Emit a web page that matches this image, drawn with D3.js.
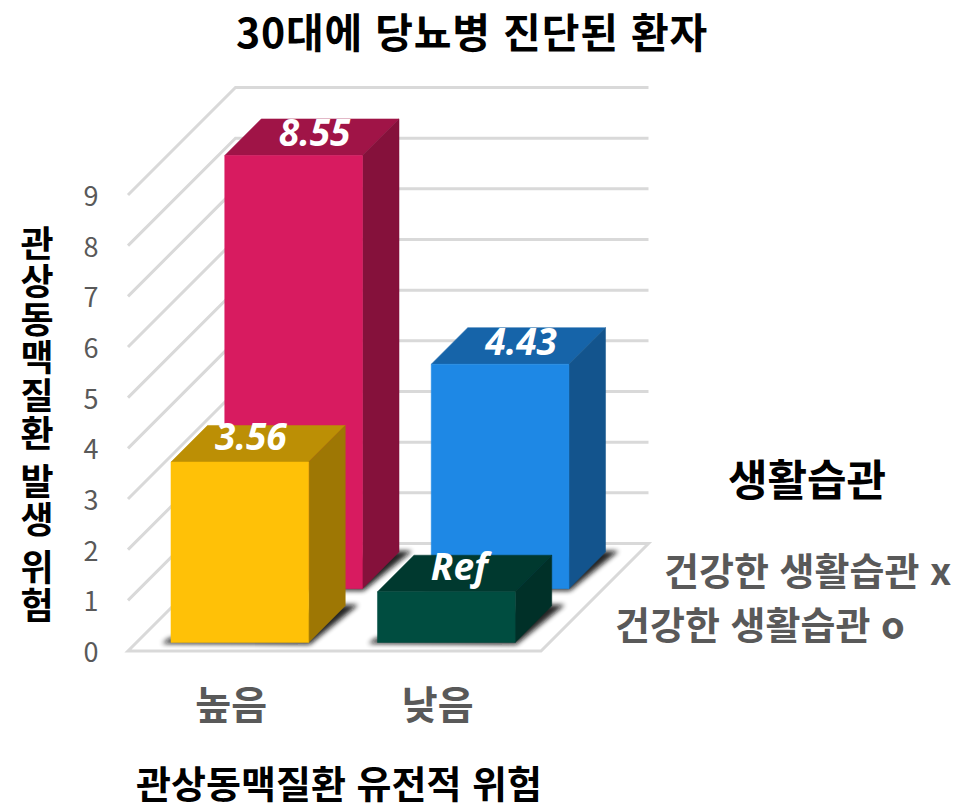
<!DOCTYPE html>
<html lang="ko">
<head>
<meta charset="utf-8" />
<title>30대에 당뇨병 진단된 환자</title>
<script src="https://d3js.org/d3.v7.min.js"></script>
<style>
  html, body { margin: 0; padding: 0; background: #fff; }
  text { font-family: "Noto Sans CJK KR", "Noto Sans", sans-serif; }
  .grid { fill: none; stroke: #d9d9d9; stroke-width: 3px; }
  .tick-y { font-size: 27px; fill: #595959; }
  .cat { font-size: 39px; font-weight: 700; fill: #595959; }
  .series { font-size: 38px; font-weight: 700; fill: #595959; }
  .black { font-weight: 700; fill: #000; }
  .val { font-size: 37px; font-weight: 700; font-style: italic; fill: #fff; font-family: "Open Sans", sans-serif; }
  .ytitle { writing-mode: vertical-rl; text-orientation: upright; letter-spacing: 2px; word-spacing: -28px; }
</style>
</head>
<body>
<script>
var categories = ["높음", "낮음"];
var seriesNames = ["건강한 생활습관 o", "건강한 생활습관 x"];
var valuesO = [3.56, 1];
var valuesX = [8.55, 4.43];
var labelsO = ["3.56", "Ref"];
var labelsX = ["8.55", "4.43"];
var coloursO = ["#FFC107", "#004D40"];
var coloursX = ["#D81B60", "#1E88E5"];
var yTicks = [0, 1, 2, 3, 4, 5, 6, 7, 8, 9];

var svg = d3.select("body").append("svg")
    .attr("width", 970)
    .attr("height", 810);

var defs = svg.append("defs");
defs.append("filter").attr("id", "soft")
    .attr("x", "-20%").attr("y", "-20%").attr("width", "140%").attr("height", "140%")
  .append("feGaussianBlur").attr("stdDeviation", 2.5);

// the fake 3d: every point is x across, v up, z into the page
var x = d3.scaleBand().domain(categories).range([128, 541]).paddingInner(0.333).paddingOuter(0.1665);
var y = d3.scaleLinear().domain([0, 9]).range([651, 195]);
var z = d3.scaleBand().domain(seriesNames).range([0, 107.5]).paddingInner(0.32).paddingOuter(0.16);
var pt = function(px, v, pz) { return [px + pz, y(v) - pz]; };
var poly = function(pts) { return "M" + pts.join("L") + "Z"; };

var depth = 107.5, x0 = 128, x1 = 541;

// floor
svg.append("path").attr("class", "grid").attr("stroke-linejoin", "miter")
    .attr("d", poly([pt(x0, 0, 0), pt(x1, 0, 0), pt(x1, 0, depth), pt(x0, 0, depth)]));

// wall lines
yTicks.slice(1).forEach(function(t) {
  svg.append("path").attr("class", "grid")
      .attr("d", d3.line()([pt(x0, t, 0), pt(x0, t, depth), pt(x1, t, depth)]));
});

svg.selectAll(".tick-y").data(yTicks).enter().append("text")
    .attr("class", "tick-y")
    .attr("text-anchor", "middle")
    .attr("x", 91)
    .attr("y", function(d) { return y(d) + 11; })
    .text(function(d) { return d; });

function drawBar(cat, series, value, colour, label, dx, dy) {
  var bx0 = x(cat), bx1 = bx0 + x.bandwidth();
  var zn = z(series), zf = zn + z.bandwidth();
  var c = d3.color(colour);
  var top = c.darker(0.85), side = c.darker(1.35);
  var g = svg.append("g");

  // shadow on the floor
  g.append("path").attr("fill", "#111").attr("opacity", 0.9).attr("filter", "url(#soft)")
      .attr("d", poly([pt(bx0 - 8, 0, zn - 1), pt(bx1 + 3, 0, zn - 2), pt(bx1 + 12, 0, zf + 1), pt(bx1 - 6, 0, zf + 1), pt(bx0 - 6, 0, zn + 4)]));

  g.append("path").attr("fill", top).attr("stroke", top).attr("stroke-width", 0.5)
      .attr("d", poly([pt(bx0, value, zn), pt(bx1, value, zn), pt(bx1, value, zf), pt(bx0, value, zf)]));
  g.append("path").attr("fill", side).attr("stroke", side).attr("stroke-width", 0.5)
      .attr("d", poly([pt(bx1, 0, zn), pt(bx1, value, zn), pt(bx1, value, zf), pt(bx1, 0, zf)]));
  g.append("path").attr("fill", colour).attr("stroke", colour).attr("stroke-width", 0.5)
      .attr("d", poly([pt(bx0, 0, zn), pt(bx1, 0, zn), pt(bx1, value, zn), pt(bx0, value, zn)]));

  var lp = pt((bx0 + bx1) / 2, value, zn);
  g.append("text").attr("class", "val").attr("text-anchor", "middle")
      .attr("x", lp[0] + dx).attr("y", lp[1] + dy).text(label);
}

// back row first so the front row covers it
drawBar(categories[0], seriesNames[1], valuesX[0], coloursX[0], labelsX[0], 21, -9);
drawBar(categories[1], seriesNames[1], valuesX[1], coloursX[1], labelsX[1], 21, -9);
drawBar(categories[0], seriesNames[0], valuesO[0], coloursO[0], labelsO[0], 11, -12);
drawBar(categories[1], seriesNames[0], valuesO[1], coloursO[1], labelsO[1], 13, -12);

svg.selectAll(".cat").data(categories).enter().append("text")
    .attr("class", "cat").attr("text-anchor", "middle")
    .attr("x", function(d) { return x(d) + x.bandwidth() / 2; })
    .attr("y", 719)
    .text(function(d) { return d; });

svg.append("text").attr("class", "series").attr("x", 615).attr("y", 639).text(seriesNames[0]);
svg.append("text").attr("class", "series").attr("x", 664).attr("y", 585).text(seriesNames[1]);

svg.append("text").attr("class", "black").attr("font-size", 41).attr("letter-spacing", "0.8px").attr("text-anchor", "middle")
    .attr("x", 472).attr("y", 47.6).text("30대에 당뇨병 진단된 환자");
svg.append("text").attr("class", "black").attr("font-size", 38).attr("text-anchor", "middle")
    .attr("x", 339).attr("y", 798).text("관상동맥질환 유전적 위험");
svg.append("text").attr("class", "black").attr("font-size", 43).attr("text-anchor", "middle")
    .attr("x", 807).attr("y", 496).text("생활습관");

// y title runs down the page, one syllable per line
svg.append("text").attr("class", "black ytitle").attr("font-size", 36)
    .attr("x", 37).attr("y", 225)
    .text("관상동맥질환 발생 위험");
</script>
</body>
</html>
